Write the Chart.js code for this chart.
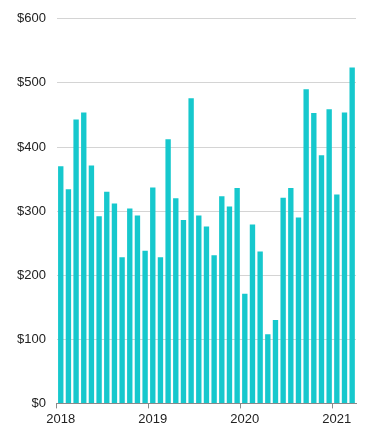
<!DOCTYPE html>
<html>
<head>
<meta charset="utf-8">
<script src="https://cdn.jsdelivr.net/npm/chart.js@4"></script>
<style>
html,body{margin:0;padding:0;background:#fff;}
#wrap{width:367px;height:440px;position:relative;}
</style>
</head>
<body>
<div id="wrap"><canvas id="c"></canvas></div>
<script>
const months = [
  '2018-01','2018-02','2018-03','2018-04','2018-05','2018-06','2018-07','2018-08','2018-09','2018-10','2018-11','2018-12',
  '2019-01','2019-02','2019-03','2019-04','2019-05','2019-06','2019-07','2019-08','2019-09','2019-10','2019-11','2019-12',
  '2020-01','2020-02','2020-03','2020-04','2020-05','2020-06','2020-07','2020-08','2020-09','2020-10','2020-11','2020-12',
  '2021-01','2021-02','2021-03'
];
const values = [
  370, 334, 443, 454, 371, 292, 330, 312, 228, 304, 293, 238,
  337, 228, 412, 320, 286, 476, 293, 276, 231, 323, 307, 336,
  171, 279, 237, 108, 130, 321, 336, 290, 490, 453, 387, 459,
  326, 454, 524
];
const yTicks = [0, 100, 200, 300, 400, 500, 600];

const FONT = {family: 'Arial, "Liberation Sans", sans-serif', size: 13};

new Chart(document.getElementById('c'), {
  type: 'bar',
  data: {
    labels: months,
    datasets: [{
      data: values,
      backgroundColor: '#16c8cd',
      borderWidth: 0,
      barPercentage: 0.7,
      categoryPercentage: 1.0
    }]
  },
  options: {
    responsive: true,
    maintainAspectRatio: false,
    animation: false,
    layout: {padding: {left: 6, right: 11, top: 8, bottom: 10}},
    plugins: {legend: {display: false}, tooltip: {enabled: false}},
    scales: {
      x: {
        type: 'category',
        offset: true,
        grid: {
          offset: true,
          drawOnChartArea: false,
          drawTicks: true,
          tickLength: 5,
          color: (ctx) => (ctx.index % 12 === 0 ? '#8a8a8a' : 'rgba(0,0,0,0)')
        },
        border: {display: true, color: '#8a8a8a', width: 1},
        ticks: {
          autoSkip: false,
          maxRotation: 0,
          minRotation: 0,
          padding: 3,
          color: '#222',
          font: FONT,
          callback: function (v, i) { return i % 12 === 0 ? months[i].slice(0, 4) : ''; }
        }
      },
      y: {
        min: yTicks[0],
        max: yTicks[yTicks.length - 1],
        afterBuildTicks: (axis) => { axis.ticks = yTicks.map(v => ({value: v})); },
        grid: {color: '#d4d4d4', drawTicks: false, lineWidth: 1},
        border: {display: false},
        ticks: {
          padding: 11,
          color: '#222',
          font: FONT,
          callback: (v) => '$' + v
        }
      }
    }
  }
});
</script>
</body>
</html>
